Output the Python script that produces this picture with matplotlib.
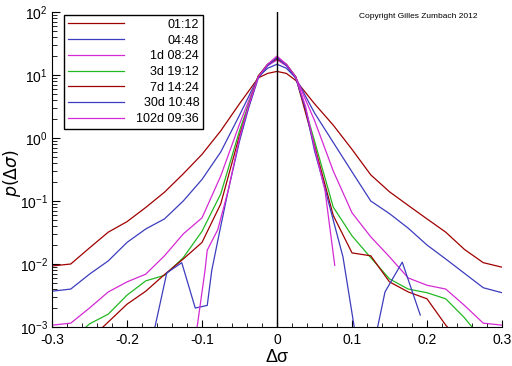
import numpy as np
import matplotlib
matplotlib.use('Agg')
import matplotlib.pyplot as plt
from matplotlib.ticker import MultipleLocator, LogLocator, NullFormatter
from matplotlib.transforms import Affine2D

plt.rcParams['font.family'] = ['Liberation Sans', 'DejaVu Sans']

# common grid for the five wider lags
x_grid = [-0.3, -0.275, -0.25, -0.225, -0.2, -0.175, -0.15, -0.125, -0.1,
          -0.075, -0.05, -0.025, -0.0125, 0.0, 0.0125, 0.025, 0.05, 0.075,
          0.1, 0.125, 0.15, 0.175, 0.2, 0.225, 0.25, 0.275, 0.3]

p_0112 = [0.0093, 0.010, 0.018, 0.032, 0.047, 0.079, 0.138, 0.27, 0.55,
          1.3, 3.5, 9.0, 10.6, 11.4, 10.6, 8.2, 3.5, 1.6,
          0.66, 0.26, 0.14, 0.085, 0.052, 0.032, 0.017, 0.0105, 0.0089]
p_0448 = [0.0037, 0.0040, 0.0069, 0.0112, 0.022, 0.036, 0.052, 0.10, 0.22,
          0.6, 2.3, 9.3, 12.8, 14.8, 12.8, 9.0, 2.5, 0.85,
          0.29, 0.10, 0.063, 0.037, 0.020, 0.012, 0.0071, 0.0042, 0.0035]
p_1d = [0.00107, 0.00115, 0.0020, 0.0036, 0.0052, 0.0069, 0.0135, 0.030, 0.054,
        0.25, 1.66, 9.5, 14.0, 17.4, 14.0, 9.3, 1.9, 0.30,
        0.065, 0.027, 0.013, 0.006, 0.0046, 0.0040, 0.0022, 0.00115, 0.00107]
p_3d = [0.0003, 0.0006, 0.00112, 0.0016, 0.0032, 0.0054, 0.0066, 0.0126, 0.033,
        0.13, 1.3, 9.6, 14.8, 18.5, 14.8, 9.4, 0.9, 0.08,
        0.028, 0.0126, 0.0058, 0.0040, 0.0035, 0.0028, 0.0014, 0.0006, 0.0003]
p_7d = [0.0002, 0.0003, 0.00063, 0.0012, 0.0023, 0.0037, 0.0068, 0.012, 0.022,
        0.09, 1.1, 9.6, 14.8, 18.0, 14.8, 9.3, 0.76, 0.059,
        0.015, 0.0135, 0.0052, 0.0036, 0.0028, 0.00107, 0.0005, 0.0003, 0.0002]

# the two longest lags have their own support
x_30d = [-0.17, -0.147, -0.127, -0.109, -0.093, -0.087, -0.076, -0.065, -0.05,
         -0.038, -0.025, -0.0125, 0.0, 0.0125, 0.025, 0.038, 0.05, 0.065,
         0.088, 0.11, 0.125, 0.144, 0.167, 0.191]
p_30d = [0.0004, 0.0072, 0.0105, 0.0020, 0.0022, 0.0079, 0.035, 0.148, 0.89,
         2.95, 8.9, 14.1, 19.0, 14.1, 8.9, 2.95, 0.63, 0.141,
         0.0129, 0.0003, 0.0003, 0.0036, 0.0107, 0.00155]

x_102d = [-0.11, -0.096, -0.093, -0.079, -0.065, -0.05, -0.038, -0.025, -0.0125,
          0.0, 0.0125, 0.025, 0.038, 0.05, 0.064, 0.077]
p_102d = [0.0005, 0.0079, 0.0166, 0.035, 0.148, 1.0, 3.2, 9.3, 14.8,
          20.0, 14.8, 9.3, 3.2, 0.71, 0.148, 0.0095]

labels = ['01:12', '04:48', '1d 08:24', '3d 19:12', '7d 14:24',
          '30d 10:48', '102d 09:36']
colors = ['#a00000', '#3c3cbe', '#d42ad4', '#22b822', '#a00000',
          '#3c3cbe', '#d42ad4']

xs = [x_grid, x_grid, x_grid, x_grid, x_grid, x_30d, x_102d]
ps = [p_0112, p_0448, p_1d, p_3d, p_7d, p_30d, p_102d]

################################################################################
fig = plt.figure(figsize=(5.12, 3.66), dpi=100)
ax = fig.add_axes([52/512, 39/366, 450/512, 315/366])

for x, p, lab, c in zip(xs, ps, labels, colors):
    ax.plot(x, p, color=c, lw=0.9, label=lab)

ax.axvline(0.0, color='black', lw=1.0)

ax.set_yscale('log')
ax.set_xlim(-0.3, 0.3)
ax.set_ylim(1e-3, 1e2)

ax.spines['top'].set_visible(False)
ax.spines['right'].set_visible(False)

ax.set_xticks([-0.3, -0.2, -0.1, 0.0, 0.1, 0.2, 0.3])
ax.set_xticklabels(['-0.3', '-0.2', '-0.1', '0', '0.1', '0.2', '0.3'])
ax.xaxis.set_minor_locator(MultipleLocator(0.02))
ax.yaxis.set_major_locator(LogLocator(base=10, numticks=10))
ax.yaxis.set_minor_locator(LogLocator(base=10, subs=np.arange(2, 10), numticks=10))
ax.yaxis.set_minor_formatter(NullFormatter())

ax.tick_params(which='both', direction='in', top=False, right=False,
               labelsize=10, pad=3)
ax.tick_params(axis='x', which='major', pad=4)
ax.tick_params(axis='y', which='major', length=6)
ax.tick_params(axis='y', which='minor', length=3.5)
ax.tick_params(axis='x', which='major', length=5)
ax.tick_params(axis='x', which='minor', length=3)

ax.set_xlabel('Δσ', fontsize=13, labelpad=2)
ax.set_ylabel(r'$p(\Delta\sigma)$', fontsize=12.5)
ax.yaxis.set_label_coords(-29/450, 0.49)

leg = ax.legend(loc='upper left', bbox_to_anchor=(12/450, 1 - 3/315),
                borderaxespad=0, fontsize=9, frameon=True, fancybox=False,
                framealpha=1, edgecolor='black', handlelength=4.5,
                handletextpad=1.0, labelspacing=0.3, borderpad=0.3)
leg.get_frame().set_linewidth(1.0)

fig.text(359/512, 1 - 16/366, 'Copyright Gilles Zumbach 2012', fontsize=6,
         va='center', ha='left')

# right-align the legend labels
fig.canvas.draw()
texts = leg.get_texts()
widths = [t.get_window_extent().width for t in texts]
for t, w in zip(texts, widths):
    t.set_transform(t.get_transform() + Affine2D().translate(max(widths) - w, 0))

fig.savefig('out.png', dpi=100)
